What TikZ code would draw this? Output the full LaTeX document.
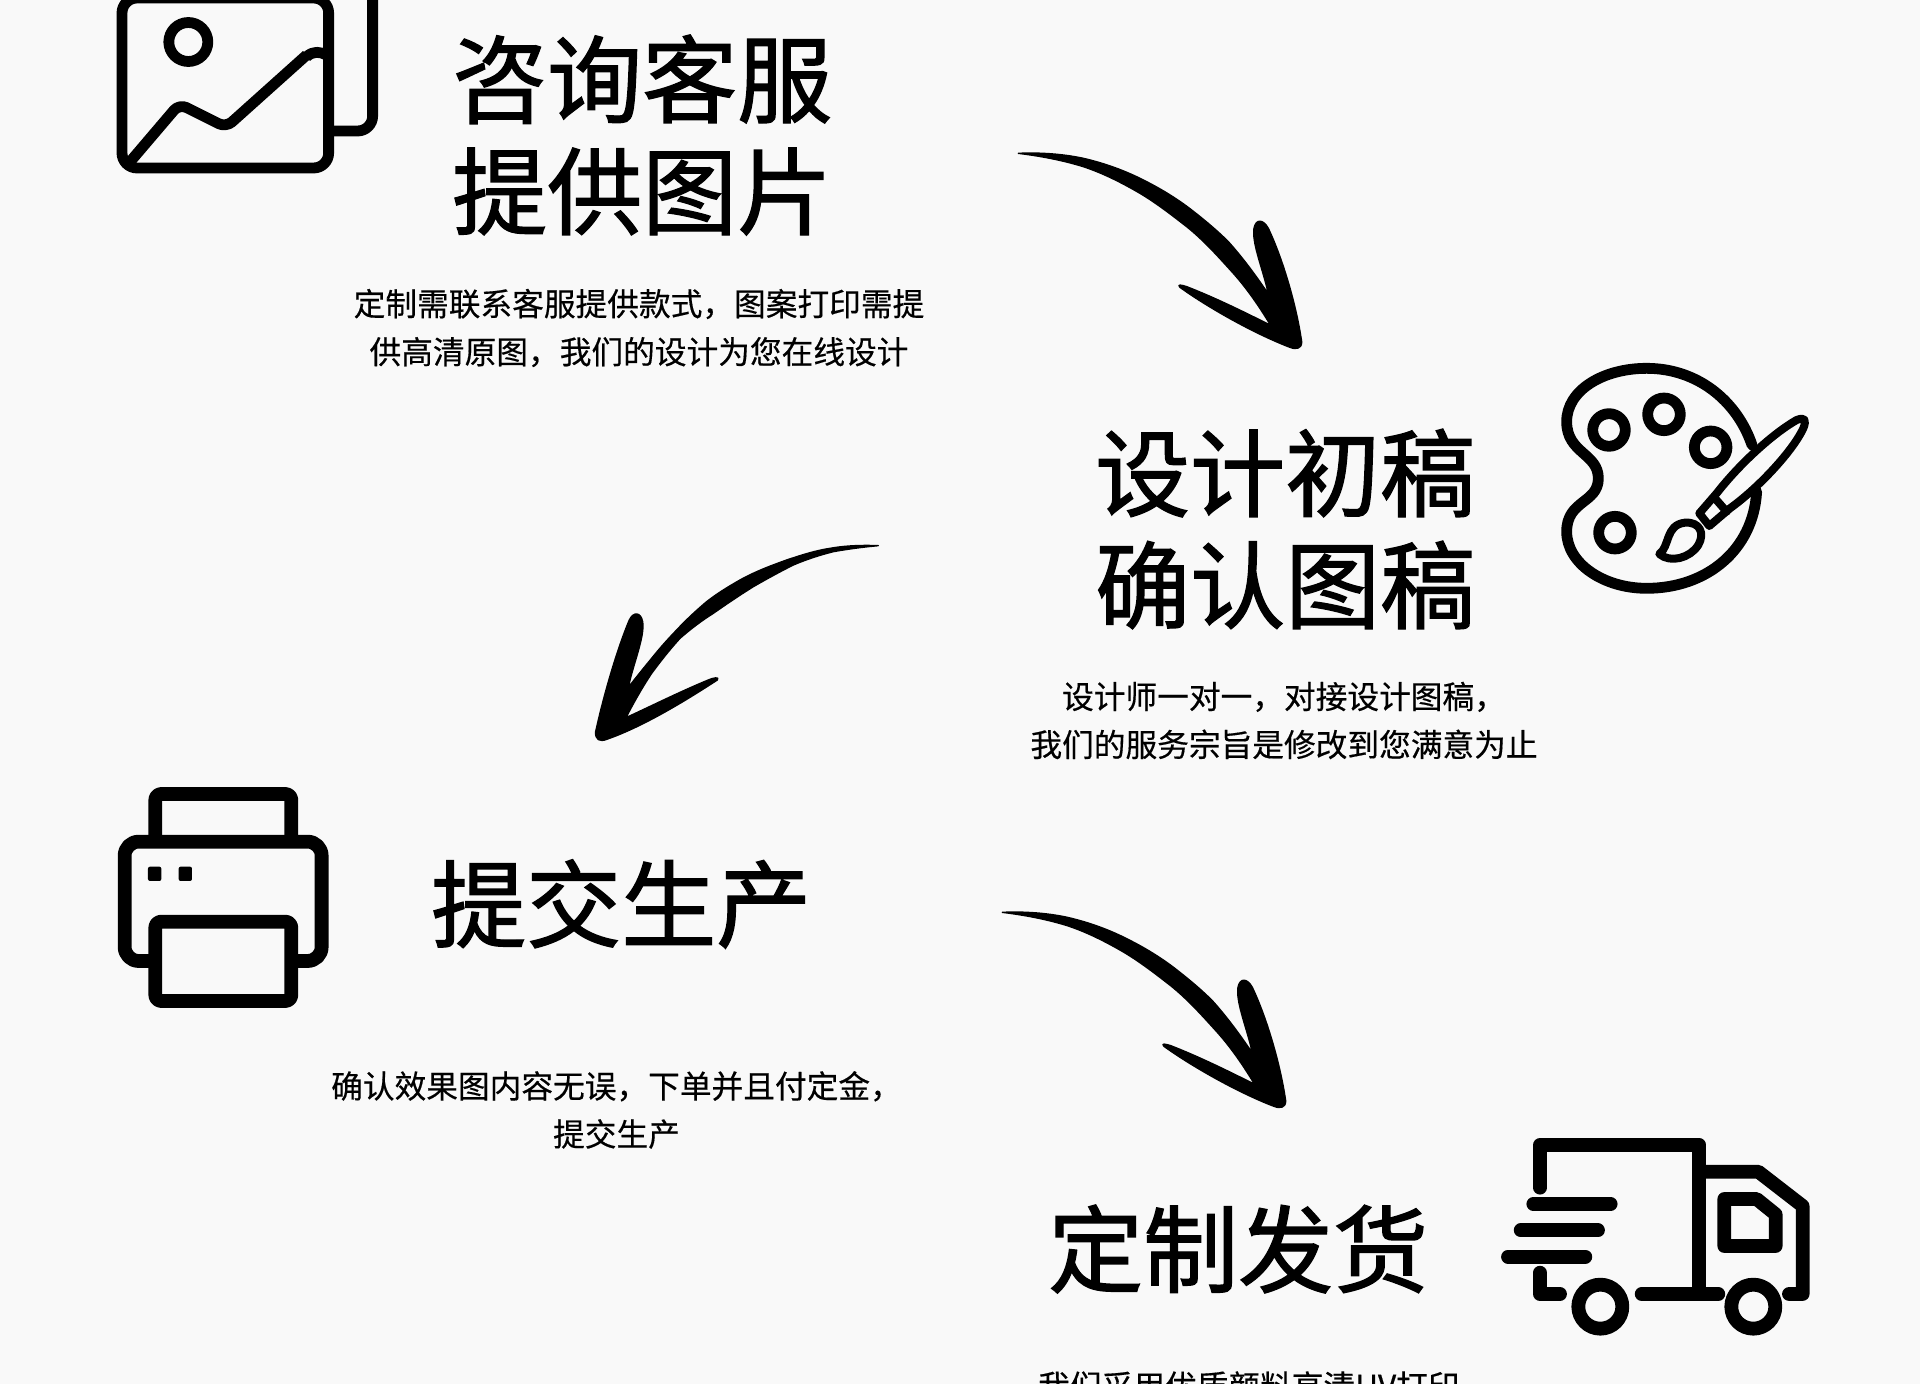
\documentclass[tikz,border=0pt]{standalone}
\usepackage{fontspec}
\setmainfont{Noto Sans CJK SC}
\newfontfamily\titlefont[FakeBold=1.4]{Noto Sans CJK SC}
\newfontfamily\bodyfont[FakeBold=0.4]{Noto Sans CJK SC}
\definecolor{bgc}{HTML}{F9F9F9}
\definecolor{ink}{HTML}{000000}
\newcommand{\arrowdown}{(55,70) .. controls (120,67) and (190,72) .. (250,85) .. controls (315,100) and (375,122) .. (430,150) .. controls (480,175) and (530,205) .. (575,240) .. controls (620,275) and (655,305) .. (685,335) .. controls (730,385) and (770,440) .. (805,492) .. controls (790,420) and (755,340) .. (762,295) .. controls (768,265) and (790,268) .. (805,295) .. controls (850,390) and (890,530) .. (905,635) .. controls (906,655) and (890,660) .. (870,652) .. controls (760,610) and (620,530) .. (540,472) .. controls (530,462) and (545,465) .. (560,470) .. controls (650,505) and (740,550) .. (812,586) .. controls (775,525) and (740,475) .. (700,430) .. controls (655,380) and (610,330) .. (560,290) .. controls (515,255) and (470,220) .. (420,190) .. controls (365,158) and (310,130) .. (250,110) .. controls (185,90) and (120,78) .. (55,70) -- cycle}
\newcommand{\arrowleft}{(895,47) .. controls (845,45) and (795,47) .. (750,55) .. controls (705,62) and (665,75) .. (620,90) .. controls (570,108) and (525,125) .. (480,150) .. controls (445,170) and (412,190) .. (380,215) .. controls (348,242) and (318,270) .. (290,300) .. controls (263,328) and (238,356) .. (215,385) .. controls (190,415) and (168,443) .. (145,472) .. controls (160,400) and (195,320) .. (188,275) .. controls (182,245) and (160,245) .. (148,270) .. controls (110,360) and (70,500) .. (47,605) .. controls (45,630) and (60,636) .. (80,628) .. controls (190,590) and (320,510) .. (412,450) .. controls (420,440) and (400,443) .. (385,450) .. controls (300,485) and (210,530) .. (138,563) .. controls (160,520) and (187,472) .. (215,430) .. controls (243,392) and (270,358) .. (300,325) .. controls (332,297) and (365,272) .. (400,250) .. controls (440,222) and (480,195) .. (520,170) .. controls (560,147) and (600,125) .. (640,105) .. controls (680,88) and (720,75) .. (760,65) .. controls (805,57) and (850,51) .. (895,47) -- cycle}
\tikzset{
  title/.style={font=\titlefont\fontsize{95}{112}\selectfont,align=left,text=ink,inner sep=0pt},
  body/.style={font=\bodyfont\fontsize{31.7}{48}\selectfont,align=center,text=ink,inner sep=0pt},
  iconline/.style={draw=ink,line width=10.8pt,line join=round,line cap=round},
  thickicon/.style={draw=ink,line width=13.8pt,line join=round,line cap=round},
  brushstroke/.style={fill=ink,draw=ink,line width=1.4pt,line join=round}
}
\begin{document}
\begin{tikzpicture}[x=1pt,y=-1pt]
\useasboundingbox (0,0) rectangle (1920,1384);
\clip (0,0) rectangle (1920,1384);
\fill[bgc] (0,0) rectangle (1920,1384);

% text
\node[title,anchor=west] (t1) at (452,135) {咨询客服\\提供图片};
\node[body] (b1) at (639,328) {定制需联系客服提供款式，图案打印需提\\供高清原图，我们的设计为您在线设计};
\node[title,anchor=west] (t2) at (1095,529) {设计初稿\\确认图稿};
\node[body] (b2) at (1284,720.5) {设计师一对一，对接设计图稿，\\我们的服务宗旨是修改到您满意为止};
\node[title,anchor=west] (t3) at (431,904) {提交生产};
\node[body] (b3) at (616.5,1110) {确认效果图内容无误，下单并且付定金，\\提交生产};
\node[title,anchor=west] (t4) at (1048,1249) {定制发货};
\node[body,anchor=west] (b4) at (1038,1386) {我们采用优质颜料高清UV打印};

% arrows
\begin{scope}[shift={(1000,130)},x=0.3333pt,y=-0.3333pt]
\path[brushstroke] \arrowdown;
\end{scope}
\begin{scope}[shift={(984,889)},x=0.3333pt,y=-0.3333pt]
\path[brushstroke] \arrowdown;
\end{scope}
\begin{scope}[shift={(580,530)},x=0.3333pt,y=-0.3333pt]
\path[brushstroke] \arrowleft;
\end{scope}

% image icon
\begin{scope}[shift={(100,0)},x=0.3333pt,y=-0.3333pt]
\draw[iconline,rounded corners=15pt] (66,-6) rectangle (686,504);
\draw[iconline] (265,126) circle (19.5pt);
\draw[iconline,line cap=butt,rounded corners=15pt] (818,-20) -- (818,393) -- (690,393);
\draw[iconline,line cap=butt,rounded corners=8pt] (88,488) -- (238,312) -- (378,382) -- (620,165);
\draw[iconline,line cap=butt] (620,170) .. controls (640,152) and (660,155) .. (680,165);
\end{scope}

% palette icon
\begin{scope}[shift={(1540,350)},x=0.3333pt,y=-0.3333pt]
\draw[iconline] (636,285) .. controls (590,150) and (470,55) .. (320,55) .. controls (190,55) and (80,120) .. (80,215) .. controls (80,310) and (175,310) .. (175,385) .. controls (175,460) and (80,450) .. (80,545) .. controls (80,640) and (190,715) .. (320,715) .. controls (500,715) and (640,600) .. (650,425);
\draw[iconline] (207,240) circle (16.3pt);
\draw[iconline] (372,193) circle (16.3pt);
\draw[iconline] (512,292) circle (16.3pt);
\draw[iconline] (225,548) circle (16.3pt);
\draw[iconline,line width=8pt,fill=bgc] (478,490) -- (530,430) .. controls (600,340) and (700,250) .. (770,210) .. controls (795,200) and (800,210) .. (790,235) .. controls (760,300) and (660,410) .. (570,475) -- (508,528) -- cycle;
\draw[iconline,line width=8pt] (525,445) -- (560,485);
\draw[iconline,line width=8pt] (358,612) .. controls (390,590) and (375,525) .. (435,518) .. controls (480,515) and (495,550) .. (475,585) .. controls (450,625) and (390,640) .. (358,612) -- cycle;
\end{scope}

% printer icon
\begin{scope}[shift={(100,770)},x=0.3333pt,y=-0.3333pt]
\draw[thickicon,line cap=butt,rounded corners=6pt] (166,215) -- (166,72) -- (574,72) -- (574,215);
\draw[thickicon,line cap=butt,rounded corners=14pt] (166,573) -- (74,573) -- (74,215) -- (665,215) -- (665,573) -- (574,573);
\draw[thickicon,rounded corners=6pt] (166,455) rectangle (574,693);
\fill[ink,rounded corners=2pt] (144,290) rectangle (184,333);
\fill[ink,rounded corners=2pt] (236,290) rectangle (276,333);
\end{scope}

% truck icon
\begin{scope}[shift={(1490,1120)},x=0.3333pt,y=-0.3333pt]
\draw[thickicon] (150,203) -- (150,75) -- (628,75) -- (628,522);
\draw[thickicon] (455,522) -- (685,522);
\draw[thickicon] (628,155) -- (805,155) -- (938,258) -- (938,522) -- (897,522);
\draw[thickicon] (703,237) -- (800,237) -- (857,283) -- (857,378) -- (703,378) -- cycle;
\draw[thickicon] (130,252) -- (362,252);
\draw[thickicon] (92,331) -- (324,331);
\draw[thickicon] (54,410) -- (286,410);
\draw[thickicon] (150,458) -- (150,522) -- (210,522);
\draw[thickicon] (331,560) circle (22pt);
\draw[thickicon] (790,560) circle (22pt);
\end{scope}
\end{tikzpicture}
\end{document}
